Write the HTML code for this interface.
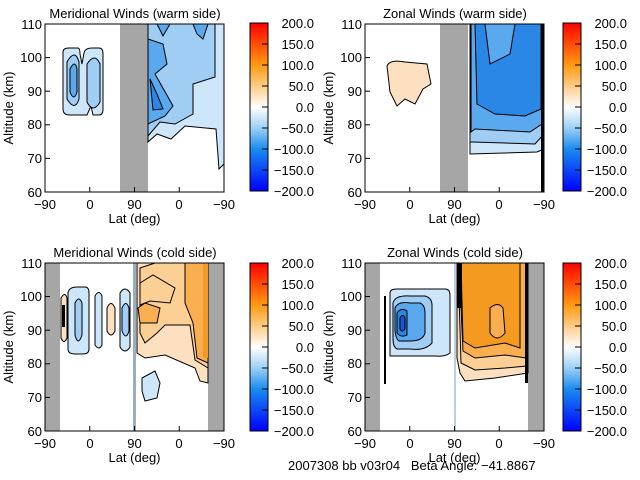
<!DOCTYPE html>
<html><head><style>
html,body{margin:0;padding:0;background:#fff;}
svg{display:block;font-family:"Liberation Sans",sans-serif;}
text{font-size:13px;fill:#000;}
</style></head><body>
<svg width="640" height="480" viewBox="0 0 640 480" xmlns="http://www.w3.org/2000/svg">
<defs>
<linearGradient id="cb" x1="0" y1="0" x2="0" y2="1">
<stop offset="0" stop-color="#ff0000"/>
<stop offset="0.25" stop-color="#ff9a10"/>
<stop offset="0.375" stop-color="#ffcc88"/>
<stop offset="0.5" stop-color="#ffffff"/>
<stop offset="0.625" stop-color="#9ccff5"/>
<stop offset="0.75" stop-color="#1a8cf0"/>
<stop offset="1" stop-color="#0000ff"/>
</linearGradient>
<g id="cbar">
<rect x="0" y="0" width="18" height="168" fill="url(#cb)" stroke="#000"/>
<g stroke="#000"><line x1="12" y1="21" x2="18" y2="21"/><line x1="12" y1="42" x2="18" y2="42"/><line x1="12" y1="63" x2="18" y2="63"/><line x1="12" y1="84" x2="18" y2="84"/><line x1="12" y1="105" x2="18" y2="105"/><line x1="12" y1="126" x2="18" y2="126"/><line x1="12" y1="147" x2="18" y2="147"/></g>
<g text-anchor="end"><text x="64" y="5">200.0</text><text x="64" y="47">100.0</text><text x="64" y="26">150.0</text><text x="64" y="68">50.0</text><text x="64" y="89">0.0</text><text x="64" y="110">−50.0</text><text x="64" y="131">−100.0</text><text x="64" y="152">−150.0</text><text x="64" y="173">−200.0</text></g>
</g>
<g id="axes">
<rect x="0" y="0" width="179" height="168" fill="none" stroke="#000"/>
<g stroke="#000">
<line x1="0" y1="33.6" x2="5" y2="33.6"/><line x1="0" y1="67.2" x2="5" y2="67.2"/><line x1="0" y1="100.8" x2="5" y2="100.8"/><line x1="0" y1="134.4" x2="5" y2="134.4"/>
<line x1="44.75" y1="168" x2="44.75" y2="163"/><line x1="89.5" y1="168" x2="89.5" y2="163"/><line x1="134.25" y1="168" x2="134.25" y2="163"/>
</g>
<g text-anchor="end"><text x="-3" y="5">110</text><text x="-3" y="38">100</text><text x="-3" y="72">90</text><text x="-3" y="105">80</text><text x="-3" y="139">70</text><text x="-3" y="173">60</text></g>
<g text-anchor="middle"><text x="0" y="185">−90</text><text x="45" y="185">0</text><text x="89.5" y="185">90</text><text x="134" y="185">0</text><text x="179" y="185">−90</text><text x="89.5" y="199">Lat (deg)</text></g>
<text transform="translate(-32,84) rotate(-90)" text-anchor="middle">Altitude (km)</text>
</g>
</defs>

<!-- Top-left -->
<text x="135" y="18" text-anchor="middle" font-size="15">Meridional Winds (warm side)</text>
<g transform="translate(45,24)">
<rect x="75" y="0" width="28" height="168" fill="#a6a6a6"/>
<path d="M103 0 H179 V140 L174 145 L171 105 L140 102 L126 115 L112 110 L103 118 Z" fill="#cde6fa" stroke="#000"/>
<path d="M103 0 H170 V53 L148 60 L148 90 L130 100 L115 98 L103 112 Z" fill="#9fcdf3" stroke="#000"/>
<path d="M103 15 L118 20 L122 40 L110 50 L128 82 L120 92 L103 100 Z" fill="#5aa9ee" stroke="#000"/>
<path d="M105 55 L112 70 L118 85 L108 86 Z" fill="#2a87e6" stroke="#000"/>
<path d="M112 0 H125 L118 12 Z M148 0 H163 L158 15 L152 10 Z" fill="#5aa9ee" stroke="#000"/>
<path d="M18 28 Q18 24 24 24 H33 Q35 24 35 30 L37 40 L39 29 Q40 24 47 24 H54 Q58 24 58 30 V85 Q58 91 54 91 L48 91 L46 82 L42 91 H25 Q18 91 18 85 Z" fill="#cde6fa" stroke="#000"/>
<path d="M22 38 Q30 24 34 38 V75 Q30 88 22 75 Z M42 40 Q50 28 55 40 V78 Q48 90 42 78 Z" fill="#9fcdf3" stroke="#000"/>
<path d="M25 45 Q30 35 32 45 V68 Q29 78 25 68 Z" fill="#5aa9ee" stroke="#000"/>
<use href="#axes"/>
</g>
<g transform="translate(250,23)"><use href="#cbar"/></g>

<!-- Top-right -->
<text x="455" y="18" text-anchor="middle" font-size="15">Zonal Winds (warm side)</text>
<g transform="translate(365,24)">
<rect x="75" y="0" width="28" height="168" fill="#a6a6a6"/>
<path d="M105 0 H179 V125 L172 128 L105 130 Z" fill="#cde6fa" stroke="#000"/>
<path d="M105 0 H179 V110 L170 120 L108 118 L105 118 Z" fill="#9fcdf3" stroke="#000"/>
<path d="M106 0 H177 V100 L165 108 L110 105 L106 108 Z" fill="#5aa9ee" stroke="#000"/>
<path d="M110 0 H176 V85 L160 92 L130 90 L112 80 Z" fill="#2a87e6" stroke="#000"/>
<path d="M120 0 H150 L145 30 L125 40 Z" fill="#5aa9ee" stroke="#000"/>
<rect x="176" y="0" width="3" height="168" fill="#000"/>
<path d="M22 42 Q25 35 40 38 L62 40 L66 60 L58 65 L50 80 L40 75 L32 82 L25 68 Z" fill="#fde0bf" stroke="#000"/>
<use href="#axes"/>
</g>
<g transform="translate(563,23)"><use href="#cbar"/></g>

<!-- Bottom-left -->
<text x="135" y="257" text-anchor="middle" font-size="15">Meridional Winds (cold side)</text>
<g transform="translate(45,263)">
<rect x="0" y="0" width="15" height="168" fill="#a6a6a6"/>
<rect x="163" y="0" width="16" height="168" fill="#a6a6a6"/>
<rect x="88" y="0" width="3" height="168" fill="#9aaec0"/>
<path d="M92 0 H163 V120 L155 118 L150 105 L120 92 L100 95 L92 90 Z" fill="#fde0bf" stroke="#000"/>
<path d="M95 5 L110 0 H163 V105 L150 97 L145 62 L120 62 L112 70 L100 80 L95 70 Z" fill="#fccf95" stroke="#000"/>
<path d="M140 0 H163 V100 L152 95 L148 60 L140 40 Z" fill="#f9ae50" stroke="#000"/>
<path d="M158 0 H163 V95 L158 95 Z" fill="#f59a20"/>
<path d="M95 42 L105 38 L125 40 L130 25 L108 12 L95 20 Z" fill="#fccf95" stroke="#000"/>
<path d="M93 45 L100 40 L115 45 L112 60 L95 60 Z" fill="#f9ae50" stroke="#000"/>
<path d="M97 115 L110 108 L115 120 L112 135 L100 138 L97 128 Z" fill="#cde6fa" stroke="#000"/>
<path d="M23 30 Q24 24 32 24 H40 Q44 24 44 30 V86 Q44 91 38 91 H30 Q23 91 23 86 Z" fill="#cde6fa" stroke="#000"/>
<path d="M30 40 Q34 32 37 40 V72 Q33 84 30 72 Z" fill="#9fcdf3" stroke="#000"/>
<path d="M50 33 Q54 26 57 33 V82 Q54 88 50 82 Z M75 30 Q80 22 85 30 V84 Q80 92 75 84 Z" fill="#cde6fa" stroke="#000"/>
<path d="M77 45 Q81 36 84 45 V68 Q81 78 77 68 Z" fill="#9fcdf3" stroke="#000"/>
<path d="M62 45 Q66 36 70 45 V68 Q66 76 62 68 Z" fill="#fde0bf" stroke="#000"/>
<path d="M16 35 Q20 28 22 35 V75 Q19 82 16 75 Z" fill="#fde0bf" stroke="#000"/>
<rect x="17" y="42" width="3" height="22" fill="#000"/>
<use href="#axes"/>
</g>
<g transform="translate(250,263)"><use href="#cbar"/></g>

<!-- Bottom-right -->
<text x="455" y="257" text-anchor="middle" font-size="15">Zonal Winds (cold side)</text>
<g transform="translate(365,263)">
<rect x="0" y="0" width="15" height="168" fill="#a6a6a6"/>
<rect x="163" y="0" width="16" height="168" fill="#a6a6a6"/>
<rect x="89" y="0" width="2" height="168" fill="#b8d0e4"/>
<path d="M92 0 H163 V110 L150 112 L130 115 L100 118 L95 110 L92 95 Z" fill="#fde0bf" stroke="#000"/>
<path d="M93 0 H162 V103 L140 105 L110 107 L96 100 Z" fill="#fccf95" stroke="#000"/>
<path d="M94 0 H161 V95 L140 92 L110 95 L98 88 Z" fill="#f9ae50" stroke="#000"/>
<path d="M96 0 H155 V85 L140 80 L110 85 L98 78 Z" fill="#f59a20" stroke="#000"/>
<path d="M125 45 Q133 38 138 45 L140 70 Q132 80 125 70 Z" fill="#f9ae50" stroke="#000"/>
<rect x="92" y="0" width="5" height="45" fill="#000"/>
<rect x="160" y="0" width="3" height="120" fill="#000"/>
<path d="M25 30 Q25 26 32 26 H80 Q85 26 85 32 V90 Q80 94 70 93 H25 Z" fill="#cde6fa" stroke="#000"/>
<path d="M28 40 Q30 32 45 33 H60 Q67 35 67 42 V80 Q60 88 45 86 H32 Q28 84 28 76 Z" fill="#9fcdf3" stroke="#000"/>
<path d="M30 45 Q33 38 45 40 H55 Q60 42 60 50 V70 Q58 78 45 78 H34 Q30 75 30 65 Z" fill="#5aa9ee" stroke="#000"/>
<path d="M32 50 Q36 44 42 48 V72 Q36 75 32 70 Z" fill="#2a87e6" stroke="#000"/>
<path d="M35 55 Q38 50 40 55 V66 Q37 70 35 66 Z" fill="#1a55d6" stroke="#000"/>
<rect x="19" y="33" width="2" height="88" fill="#000"/>
<use href="#axes"/>
</g>
<g transform="translate(563,263)"><use href="#cbar"/></g>

<text x="288" y="470" font-size="13">2007308 bb v03r04&#160;&#160;&#160;Beta Angle: −41.8867</text>
</svg>
</body></html>
